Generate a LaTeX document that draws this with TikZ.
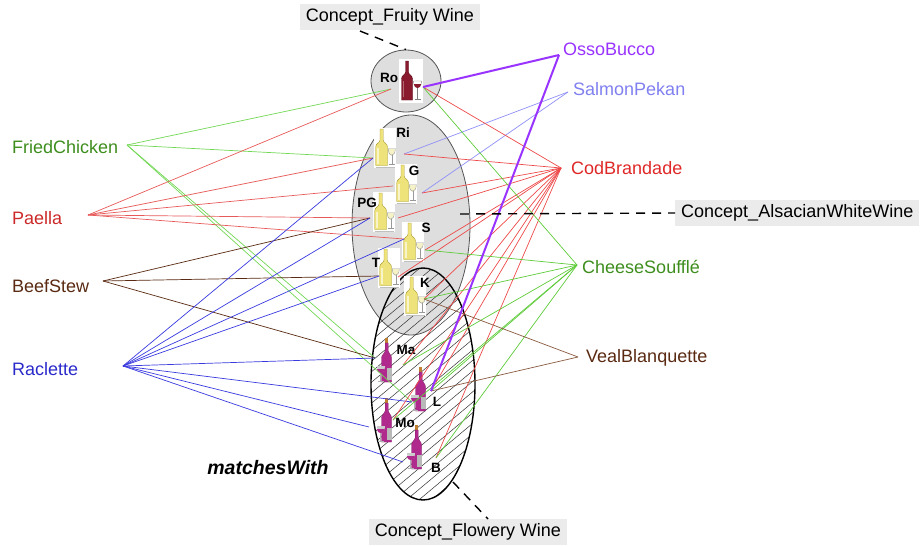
\documentclass[tikz,border=0pt]{standalone}
\usepackage{fontspec}
\setmainfont{Liberation Sans}
\usetikzlibrary{shapes.geometric}
\definecolor{conceptgrey}{HTML}{EBEBEB}
\definecolor{ellgrey}{HTML}{DEDEDE}
\definecolor{ellborder}{HTML}{555555}
\definecolor{fcgreen}{HTML}{3E8E1E}
\definecolor{fcline}{HTML}{72D854}
\definecolor{paered}{HTML}{CC2A2A}
\definecolor{paeline}{HTML}{E85A5A}
\definecolor{bsbrown}{HTML}{5A2A12}
\definecolor{bsline}{HTML}{5A2A12}
\definecolor{racblue}{HTML}{2A2ACC}
\definecolor{racline}{HTML}{3A3AE0}
\definecolor{ossopurple}{HTML}{9933FF}
\definecolor{salblue}{HTML}{8080F0}
\definecolor{salline}{HTML}{9090F8}
\definecolor{codred}{HTML}{E02828}
\definecolor{codline}{HTML}{EE4A4A}
\definecolor{chgreen}{HTML}{3E8E1E}
\definecolor{chline}{HTML}{5ECC3A}
\definecolor{vealbrown}{HTML}{5A2A12}
\definecolor{vealline}{HTML}{8A5A40}
\definecolor{wyellow}{HTML}{EEE27A}
\definecolor{wedge}{HTML}{A89A30}
\definecolor{gpale}{HTML}{F6F2C8}
\definecolor{gedge}{HTML}{999999}
\definecolor{wred}{HTML}{8A1A2E}
\definecolor{wredd}{HTML}{5A0A18}
\definecolor{wmag}{HTML}{B02A8E}
\definecolor{wmagd}{HTML}{801A66}
\definecolor{capbrown}{HTML}{C08030}
\tikzset{
  whitewine/.pic={
    \fill[white] (-11,-20) rectangle (11,20);
    \draw[fill=wyellow, draw=wedge, line width=0.4pt] (-5,-19) -- (-1.8,-19) -- (-1.8,-8) .. controls (-1.8,-5) and (2.5,-5) .. (2.5,-1) -- (2.5,17.5) -- (-9.3,17.5) -- (-9.3,-1) .. controls (-9.3,-5) and (-5,-5) .. (-5,-8) -- cycle;
    \fill[white, opacity=0.6] (-7.6,0) rectangle (-6.3,15.5);
    \draw[fill=gpale, draw=gedge, line width=0.4pt] (3.2,0.5) .. controls (3.2,9.5) and (10.3,9.5) .. (10.3,0.5) -- cycle;
    \draw[gedge, line width=0.5pt] (6.75,7) -- (6.75,16) (3.8,16.5) -- (9.7,16.5);
    \draw[gray!50, line width=0.4pt] (-9.5,18.8) -- (10,18.8);
  },
  redwine/.pic={
    \fill[white] (-12,-22) rectangle (12,22);
    \draw[fill=wred, draw=wredd, line width=0.4pt] (-5.5,-20) -- (-2.5,-20) -- (-2.5,-9) .. controls (-2.5,-6) and (1.5,-6) .. (1.5,-2) -- (1.5,19) -- (-9.5,19) -- (-9.5,-2) .. controls (-9.5,-6) and (-5.5,-6) .. (-5.5,-9) -- cycle;
    \fill[white, opacity=0.35] (-8,0) rectangle (-6.8,16);
    \draw[fill=white, draw=gray, line width=0.4pt] (2.5,0) .. controls (2.5,9) and (10.5,9) .. (10.5,0) -- cycle;
    \fill[wred] (2.9,3) .. controls (3.3,8.3) and (9.7,8.3) .. (10.1,3) -- cycle;
    \draw[gray, line width=0.5pt] (6.5,7) -- (6.5,18) (3.5,18.5) -- (9.5,18.5);
  },
  magwine/.pic={
    \fill[capbrown] (-0.8,-23) rectangle (2.2,-18);
    \draw[fill=wmag, draw=wmagd, line width=0.3pt] (-0.8,-18) -- (2.2,-18) -- (2.2,-10) .. controls (2.2,-7) and (5.5,-7) .. (5.5,-3) -- (5.5,21) -- (-4.5,21) -- (-4.5,-3) .. controls (-4.5,-7) and (-0.8,-7) .. (-0.8,-10) -- cycle;
    \fill[gray!55] (0.5,7) rectangle (5.5,19);
    \fill[gray!40] (-9.5,5) .. controls (-9.5,14) and (-1,14) .. (-1,5) -- cycle;
    \fill[wmag] (-9.3,8) .. controls (-8.5,13.5) and (-2,13.5) .. (-1.2,8) -- cycle;
    \draw[gray!60, line width=0.8pt] (-5.2,12) -- (-5.2,20) (-8,20.5) -- (-2.5,20.5);
  },
}
\begin{document}
\begin{tikzpicture}[x=1pt,y=-1pt,
  food/.style={font=\fontsize{18}{20}\selectfont, inner sep=0pt, anchor=base west},
  winelbl/.style={font=\bfseries\fontsize{13.5}{15}\selectfont, inner sep=0pt},
  concept/.style={fill=conceptgrey, font=\fontsize{18}{20}\selectfont, inner xsep=6pt, inner ysep=0pt, minimum height=26pt},
  link/.style={line width=0.7pt},
  conceptlink/.style={black, line width=1.4pt, dash pattern=on 9pt off 7pt},
  ell/.style={ellipse, draw=ellborder, fill=ellgrey, line width=0.8pt, inner sep=0pt},
]
\useasboundingbox (0,0) rectangle (923,546);
\fill[white] (0,0) rectangle (923,546);

% ellipses
\node[ell, minimum width=70pt, minimum height=62pt] (roEll) at (406,81) {};
\node[ell, minimum width=118pt, minimum height=220pt] (alsEll) at (411,225) {};
\begin{scope}
  \clip (423,384) ellipse [x radius=52pt, y radius=116pt];
  \foreach \k in {0,...,25} {
    \draw[black!80, line width=0.5pt] (223,{255+10.5*\k+167.8}) -- (623,{255+10.5*\k-167.8});
  }
\end{scope}
\node[ellipse, draw=black, line width=1.4pt, minimum width=104pt, minimum height=232pt, inner sep=0pt] (floEll) at (423,384) {};

% wine icons
\pic at (411,81) {redwine};
\pic at (385,148) {whitewine};
\pic at (406,184) {whitewine};
\pic at (384,212) {whitewine};
\pic at (413,242) {whitewine};
\pic at (389,268) {whitewine};
\pic at (415,296) {whitewine};
\pic at (386,361) {magwine};
\pic at (420,390) {magwine};
\pic at (386,421) {magwine};
\pic at (416,448) {magwine};

% wine labels
\node[winelbl] (roT) at (389,78) {Ro};
\node[winelbl] (riT) at (403,133) {Ri};
\node[winelbl] (gT) at (414,171) {G};
\node[winelbl] (pgT) at (367,203) {PG};
\node[winelbl] (sT) at (426,228) {S};
\node[winelbl] (tT) at (376,263) {T};
\node[winelbl] (kT) at (425,283) {K};
\node[winelbl] (maT) at (406,350) {Ma};
\node[winelbl] (lT) at (437,402) {L};
\node[winelbl] (moT) at (405,423) {Mo};
\node[winelbl] (bT) at (436,468) {B};

% wine anchor points
\coordinate (roL) at (391,89);   \coordinate (roR) at (423,87);
\coordinate (riL) at (373,158);  \coordinate (riR) at (404,154);
\coordinate (gL) at (393,186);   \coordinate (gR) at (422,193);
\coordinate (pgL) at (370,218);  \coordinate (pgR) at (398,218);
\coordinate (sL) at (404,239);   \coordinate (sR) at (425,250);
\coordinate (tL) at (379,276);   \coordinate (tR) at (398,277);
\coordinate (kR) at (424,299);
\coordinate (maL) at (375,358);  \coordinate (maR) at (403,365);
\coordinate (lL) at (412,402);   \coordinate (lR) at (431,391);
\coordinate (moL) at (369,427);  \coordinate (moR) at (393,420);
\coordinate (bL) at (403,462);   \coordinate (bR) at (436,458);

% food labels
\node[food, text=fcgreen] (fc) at (12,153) {FriedChicken};
\node[food, text=paered] (pae) at (12,224) {Paella};
\node[food, text=bsbrown] (bs) at (12,292) {BeefStew};
\node[food, text=racblue] (rac) at (12,375) {Raclette};
\node[food, text=ossopurple] (osso) at (563,55) {OssoBucco};
\node[food, text=salblue] (sal) at (573,95) {SalmonPekan};
\node[food, text=codred] (cod) at (571,174) {CodBrandade};
\node[food, text=chgreen] (ch) at (582,273) {CheeseSoufflé};
\node[food, text=vealbrown] (veal) at (586,362) {VealBlanquette};
\node[font=\bfseries\itshape\fontsize{19.5}{22}\selectfont, inner sep=0pt] (mw) at (268,468) {matchesWith};

% food anchor points
\coordinate (fcP) at (127,145);
\coordinate (paeP) at (88,215);
\coordinate (bsP) at (103,281);
\coordinate (racP) at (123,366);
\coordinate (ossoP) at (559,55);
\coordinate (salP) at (568,92);
\coordinate (codP) at (561,168);
\coordinate (chP) at (577,265);
\coordinate (vealP) at (578,357);

% connectors
\foreach \w in {roL,riL,maL,lL} \draw[link, fcline] (fcP) -- (\w);
\foreach \w in {roL,riL,gL,pgL,sL} \draw[link, paeline] (paeP) -- (\w);
\foreach \w in {pgL,tL,maL} \draw[link, bsline] (bsP) -- (\w);
\foreach \w in {riL,pgL,sL,tL,maL,lL,moL,bL} \draw[link, racline] (racP) -- (\w);
\foreach \w in {riR,gR} \draw[link, salline] (salP) -- (\w);
\foreach \w in {roR,riR,gR,pgR,sR,tR,kR,maR,lR,moR,bR} \draw[link, codline] (codP) -- (\w);
\foreach \w in {roR,sR,kR,maR,lR,moR,bR} \draw[link, chline] (chP) -- (\w);
\foreach \w in {kR,lR} \draw[link, vealline] (vealP) -- (\w);
\foreach \w in {roR,lR} \draw[line width=2pt, ossopurple] (ossoP) -- (\w);

% concepts
\node[concept] (fruBox) at (390,17) {Concept\_Fruity Wine};
\node[concept, anchor=west] (alsBox) at (675,213) {Concept\_AlsacianWhiteWine};
\node[concept] (floBox) at (468,532) {Concept\_Flowery Wine};
\coordinate (fruDash) at (360,31);
\coordinate (alsDash) at (460,214);
\coordinate (floDash) at (453,482);
\coordinate (floDashEnd) at (488,519);
\draw[conceptlink] (fruDash) -- (roEll.north);
\draw[conceptlink] (alsDash) -- (alsBox.west);
\draw[conceptlink] (floDash) -- (floDashEnd);
\end{tikzpicture}
\end{document}
